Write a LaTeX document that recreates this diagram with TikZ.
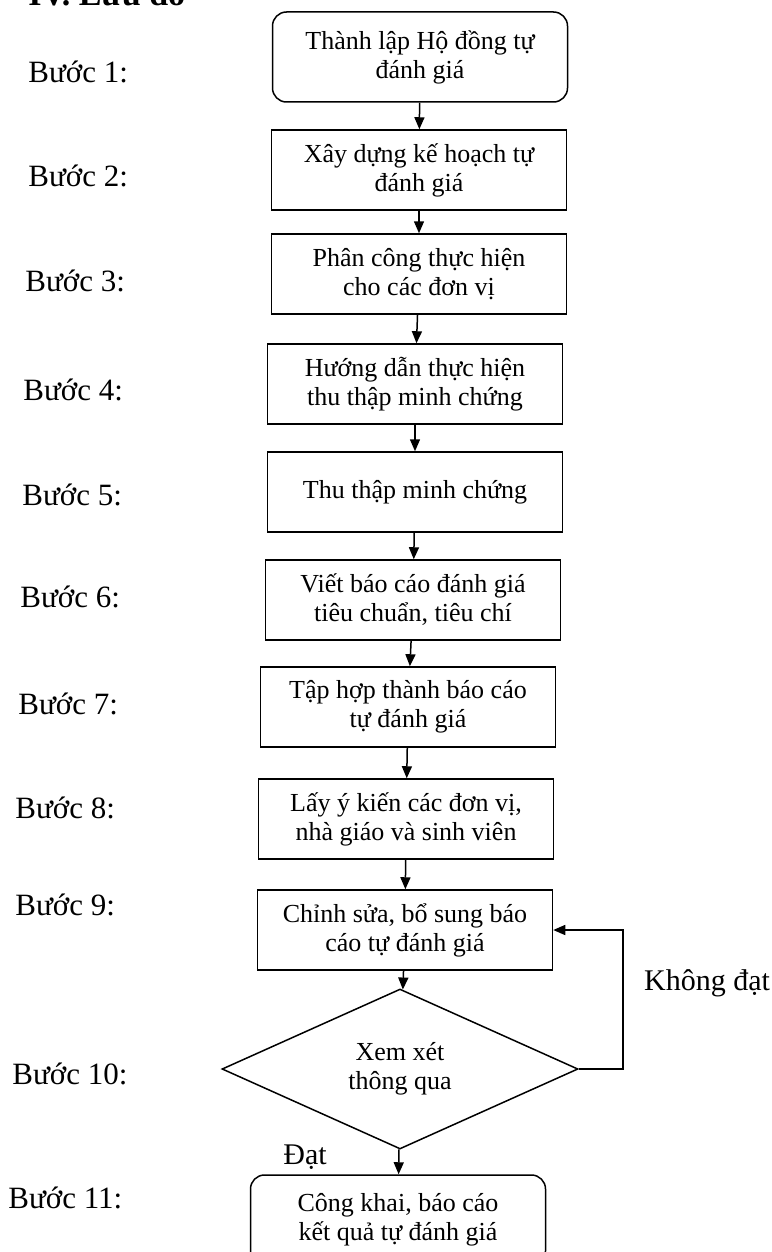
\documentclass[tikz,border=0pt]{standalone}
\usepackage{fontspec}
\setmainfont{Liberation Serif}
\usetikzlibrary{shapes.geometric,arrows.meta}
\begin{document}
\begin{tikzpicture}[x=0.5pt,y=-0.5pt,
    box/.style={draw,line width=0.75pt,align=center,minimum width=147.5pt,
      minimum height=40pt,inner sep=2pt,font=\fontsize{13}{14.5}\selectfont},
    rbox/.style={box,rounded corners=7pt,minimum height=45pt},
    dec/.style={draw,line width=0.75pt,diamond,aspect=2.2,inner sep=0pt,
      minimum width=178pt,minimum height=80pt,align=center,
      font=\fontsize{13}{14.5}\selectfont},
    lbl/.style={anchor=west,inner sep=0pt,font=\fontsize{15.5}{18}\selectfont},
    note/.style={inner sep=0pt,font=\fontsize{15}{18}\selectfont},
    arr/.style={-{Triangle[width=5pt,length=6pt]},line width=0.75pt}]
  \useasboundingbox (0,0) rectangle (771,1252);
  \node[anchor=base west,inner sep=0pt,font=\fontsize{17}{20}\selectfont\bfseries]
    (title) at (28,6) {IV. Lưu đồ};
  \draw
    (420,57) node[rbox] (1) {Thành lập Hộ đồng tự\\đánh giá}
    (419,170) node[box] (2) {Xây dựng kế hoạch tự\\đánh giá}
    (419,274) node[box] (3) {Phân công thực hiện\\cho các đơn vị}
    (415,384) node[box] (4) {Hướng dẫn thực hiện\\thu thập minh chứng}
    (415,492) node[box] (5) {Thu thập minh chứng}
    (413,600) node[box] (6) {Viết báo cáo đánh giá\\tiêu chuẩn, tiêu chí}
    (408,707) node[box] (7) {Tập hợp thành báo cáo\\tự đánh giá}
    (406,819) node[box] (8) {Lấy ý kiến các đơn vị,\\nhà giáo và sinh viên}
    (405,930) node[box] (9) {Chỉnh sửa, bổ sung báo\\cáo tự đánh giá}
    (400,1069) node[dec] (10) {Xem xét\\thông qua}
    (398,1220) node[rbox] (11) {Công khai, báo cáo\\kết quả tự đánh giá};
  \draw
    (28,72) node[lbl] (l1) {Bước 1:}
    (28,176) node[lbl] (l2) {Bước 2:}
    (25,281) node[lbl] (l3) {Bước 3:}
    (23,390) node[lbl] (l4) {Bước 4:}
    (22,495) node[lbl] (l5) {Bước 5:}
    (20,597) node[lbl] (l6) {Bước 6:}
    (18,704) node[lbl] (l7) {Bước 7:}
    (15,808) node[lbl] (l8) {Bước 8:}
    (15,905) node[lbl] (l9) {Bước 9:}
    (12,1074) node[lbl] (l10) {Bước 10:}
    (8,1198) node[lbl] (l11) {Bước 11:};
  \node[note] (fail) at (707,983) {Không đạt};
  \node[note] (pass) at (305,1157) {Đạt};
  \begin{scope}[arr]
    \draw (1) to (2);
    \draw (2) to (3);
    \draw (3) to (4);
    \draw (4) to (5);
    \draw (5) to (6);
    \draw (6) to (7);
    \draw (7) to (8);
    \draw (8) to (9);
    \draw (9) to (10);
    \draw (10) to (11);
    \draw (10.east) -- ++(44,0) |- (9.east);
  \end{scope}
\end{tikzpicture}
\end{document}
